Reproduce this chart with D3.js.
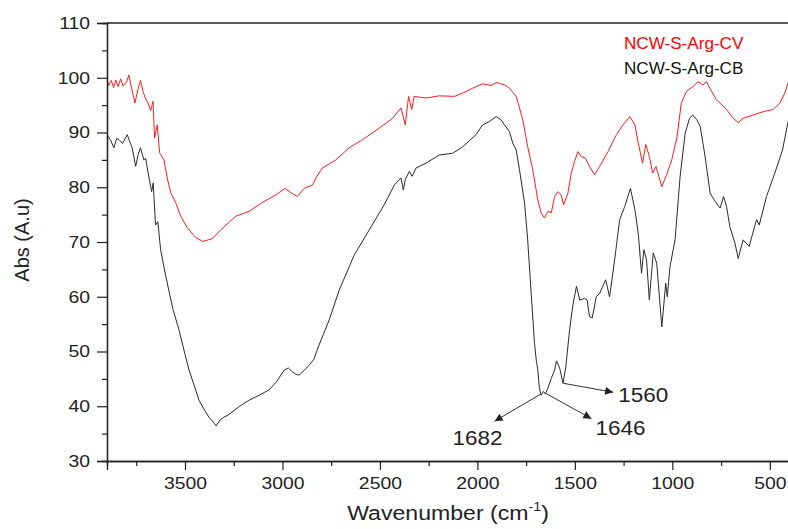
<!DOCTYPE html>
<html>
<head>
<meta charset="utf-8">
<script src="https://cdn.jsdelivr.net/npm/d3@7"></script>
<style>
  body { margin: 0; background: #fff; }
  text { font-family: "Liberation Sans", Arial, sans-serif; fill: #222; }
</style>
</head>
<body>
<div id="chart"></div>
<script>
// wavenumber (cm-1) / absorbance
const cvWave = [3904, 3890, 3878, 3866, 3855, 3843, 3830, 3818, 3800, 3788, 3775, 3757, 3742, 3728, 3714, 3702, 3690, 3676, 3664, 3656, 3642, 3630, 3608, 3591, 3573, 3548, 3522, 3488, 3445, 3408, 3361, 3317, 3240, 3171, 3104, 3034, 2986, 2957, 2923, 2889, 2846, 2828, 2796, 2726, 2658, 2589, 2503, 2435, 2392, 2370, 2353, 2337, 2324, 2264, 2195, 2118, 2075, 2024, 1973, 1930, 1904, 1887, 1861, 1836, 1801, 1767, 1742, 1716, 1690, 1673, 1656, 1638, 1621, 1604, 1587, 1570, 1558, 1536, 1518, 1502, 1484, 1467, 1445, 1425, 1399, 1373, 1330, 1287, 1253, 1218, 1192, 1175, 1153, 1136, 1118, 1101, 1084, 1054, 1029, 1003, 977, 954, 928, 894, 868, 843, 825, 808, 774, 722, 688, 662, 637, 585, 534, 483, 448, 423, 407, 400];
const cvAbs  = [100, 98.6, 99.5, 98.2, 99.6, 98.4, 99.8, 98.5, 99.2, 100.5, 98.3, 95.4, 97.8, 99.5, 97.3, 96.2, 95.4, 94, 95.7, 89, 91.4, 86.3, 85, 81.7, 79, 77.2, 74.7, 72.6, 70.8, 70.1, 70.6, 72.2, 74.7, 75.6, 77.2, 78.6, 79.8, 79, 78.3, 79.8, 80.4, 81.7, 83.5, 85, 87.2, 88.7, 90.8, 92.6, 94.5, 91.4, 96.6, 94.2, 96.6, 96.3, 96.7, 96.6, 97.2, 98.1, 98.9, 98.6, 99.1, 99, 98.7, 98.1, 96.6, 92.3, 87.4, 83.2, 77.7, 75.3, 74.4, 75.6, 75.3, 78.3, 79.2, 78.6, 76.8, 78.9, 82.6, 84.7, 86.5, 85.6, 85.3, 83.8, 82.3, 83.8, 86.5, 89.6, 91.4, 92.9, 91.4, 88.1, 84.4, 87.8, 85.6, 82.6, 83.8, 80.1, 82.3, 85, 89, 95.4, 97.5, 98.4, 99.3, 98.7, 99.3, 98.1, 96, 94.2, 92.6, 91.8, 92.6, 93.2, 93.8, 94.2, 95.4, 97.2, 99, 99.4];

const cbWave = [3904, 3880, 3865, 3850, 3839, 3820, 3796, 3785, 3771, 3753, 3740, 3728, 3711, 3702, 3689, 3671, 3663, 3651, 3639, 3625, 3600, 3582, 3560, 3531, 3500, 3479, 3450, 3428, 3400, 3377, 3350, 3340, 3320, 3300, 3274, 3220, 3171, 3120, 3068, 3030, 2991, 2970, 2950, 2930, 2914, 2890, 2863, 2840, 2812, 2760, 2709, 2632, 2555, 2478, 2426, 2392, 2380, 2370, 2349, 2335, 2315, 2264, 2195, 2127, 2075, 2007, 1973, 1938, 1904, 1878, 1861, 1836, 1819, 1801, 1784, 1758, 1742, 1724, 1707, 1698, 1690, 1682, 1673, 1661, 1651, 1639, 1621, 1604, 1594, 1578, 1561, 1547, 1527, 1510, 1492, 1475, 1450, 1437, 1425, 1411, 1390, 1373, 1342, 1322, 1296, 1270, 1244, 1215, 1192, 1175, 1158, 1146, 1132, 1118, 1098, 1080, 1054, 1034, 1026, 1012, 986, 960, 934, 912, 895, 874, 857, 832, 806, 780, 755, 737, 722, 705, 679, 662, 637, 606, 568, 554, 517, 474, 435, 411, 400];
const cbAbs  = [89.8, 88.5, 87.2, 88.9, 88.7, 88, 89.6, 88.5, 87.2, 83.8, 86, 87.2, 85, 85.3, 82.6, 79.2, 80.8, 73.1, 73.7, 68.6, 64, 61, 57.5, 54, 49.5, 46.6, 43.5, 41.1, 39.3, 38, 36.9, 36.4, 37.5, 38, 38.5, 40, 41.1, 42, 43, 44.5, 46.6, 47, 46.3, 45.8, 45.7, 46.5, 47.5, 48.5, 51.2, 55.8, 61.2, 67.6, 72.2, 76.8, 80.4, 81.7, 79.5, 81.4, 82.9, 82, 83.5, 84.4, 85.9, 86.2, 87.4, 89.6, 91.4, 92, 92.9, 92.3, 91.4, 90.2, 88.1, 86.8, 83.2, 77.1, 70.4, 60.6, 51.5, 48.4, 46.6, 43.3, 42, 42.7, 42.2, 43.3, 45.1, 46.6, 48.3, 47, 44.2, 47, 54, 58.5, 61.9, 59.4, 59.7, 59.4, 56.4, 56.1, 60, 60.6, 63.1, 60, 66.7, 74.1, 76.5, 79.8, 75.9, 71.6, 64.3, 68.6, 66.7, 59.4, 68, 66.1, 54.5, 62.5, 60, 65.5, 70.4, 82, 89.9, 92.6, 93.2, 92.3, 91.1, 85.6, 78.9, 77.4, 76.2, 78.3, 76.5, 72.8, 69.8, 67, 70.4, 69.2, 74.1, 73.1, 78.3, 82.6, 86.8, 91.1, 93];

const seriesNames = ["NCW-S-Arg-CV", "NCW-S-Arg-CB"];
const xTicks = [3500, 3000, 2500, 2000, 1500, 1000, 500];
const yTicks = [30, 40, 50, 60, 70, 80, 90, 100, 110];
// peak labels on the CB curve: wavenumber and absorbance at the arrow foot
const peakLabels = ["1682", "1646", "1560"];
const peakWave = [1676, 1646, 1560];
const peakAbs = [42.2, 42.3, 44.2];

const W = 788, H = 529;
const svg = d3.select("#chart").append("svg")
    .attr("width", W)
    .attr("height", H);

const x = d3.scaleLinear().domain([3900, 400]).range([107, 789.3]);
const y = d3.scaleLinear().domain([30, 110]).range([461, 23]);
const SX = 1.14; // the original text is a bit wide

const clip = svg.append("clipPath").attr("id", "plotclip")
    .append("rect").attr("x", 107).attr("y", 23).attr("width", 683).attr("height", 438);

// curves
const line = d3.line().x(d => x(d[0])).y(d => y(d[1]));
const cv = cvWave.map((w, i) => [w, cvAbs[i]]);
const cb = cbWave.map((w, i) => [w, cbAbs[i]]);

const g = svg.append("g").attr("clip-path", "url(#plotclip)");
g.append("path").datum(cv)
    .attr("d", line)
    .attr("fill", "none")
    .attr("stroke", "#ff1a1a")
    .attr("stroke-width", 1);
g.append("path").datum(cb)
    .attr("d", line)
    .attr("fill", "none")
    .attr("stroke", "#2a2a2a")
    .attr("stroke-width", 1);

// frame
svg.append("line")
    .attr("x1", x.range()[0]).attr("x2", x.range()[1])
    .attr("y1", y(110)).attr("y2", y(110))
    .attr("stroke", "#222").attr("stroke-width", 1.3);

// x axis
const xMinor = d3.range(3750, 400, -500);
const xAxisG = svg.append("g").attr("transform", `translate(0,${y(30)})`);
xAxisG.call(d3.axisBottom(x).tickValues(xMinor).tickSize(5).tickFormat(""));
xAxisG.append("g").call(d3.axisBottom(x).tickValues(xTicks).tickSize(9).tickPadding(7).tickFormat(d3.format("d")));
xAxisG.selectAll(".domain").attr("stroke", "#222").attr("stroke-width", 1.3);
xAxisG.selectAll(".tick line").attr("stroke", "#222").attr("stroke-width", 1.2);
xAxisG.selectAll(".tick text")
    .attr("font-size", 17)
    .attr("fill", "#222")
    .attr("font-family", "Liberation Sans, Arial, sans-serif")
    .attr("transform", `scale(${SX},1)`);

// y axis
const yMinor = d3.range(35, 110, 10);
const yAxisG = svg.append("g").attr("transform", `translate(${x.range()[0]},0)`);
yAxisG.call(d3.axisLeft(y).tickValues(yMinor).tickSize(5).tickFormat(""));
yAxisG.append("g").call(d3.axisLeft(y).tickValues(yTicks).tickSize(10).tickPadding(7).tickFormat(d3.format("d")));
yAxisG.selectAll(".domain").attr("stroke", "#222").attr("stroke-width", 1.3);
yAxisG.selectAll(".tick line").attr("stroke", "#222").attr("stroke-width", 1.2);
yAxisG.selectAll(".tick text")
    .attr("font-size", 17)
    .attr("fill", "#222")
    .attr("font-family", "Liberation Sans, Arial, sans-serif")
    .attr("x", -17 / SX)
    .attr("transform", `scale(${SX},1)`);

// axis titles
const xt = svg.append("text")
    .attr("transform", `translate(${(x.range()[0] + 789) / 2},520) scale(1.1,1)`)
    .attr("text-anchor", "middle")
    .attr("font-size", 21);
xt.append("tspan").text("Wavenumber (cm");
xt.append("tspan").attr("font-size", 13).attr("dy", -9).text("-1");
xt.append("tspan").attr("dy", 9).text(")");

svg.append("text")
    .attr("transform", "translate(29,240) rotate(-90)")
    .attr("text-anchor", "middle")
    .attr("font-size", 20)
    .text("Abs (A.u)");

// legend
const legendColors = ["#ff0000", "#111"];
svg.selectAll(".leg").data(seriesNames).enter().append("text")
    .attr("class", "leg")
    .attr("transform", (d, i) => `translate(624,${48.5 + i * 25}) scale(1.07,1)`)
    .attr("font-family", "Open Sans, Noto Sans, sans-serif")
    .attr("font-size", 16)
    .style("fill", (d, i) => legendColors[i])
    .text(d => d);

// peak arrows
svg.append("defs").append("marker")
    .attr("id", "arrow")
    .attr("viewBox", "0 0 10 10")
    .attr("refX", 10).attr("refY", 5)
    .attr("markerWidth", 11).attr("markerHeight", 8)
    .attr("markerUnits", "userSpaceOnUse")
    .attr("orient", "auto")
    .append("path").attr("d", "M0,0 L10,5 L0,10 Z").attr("fill", "#222");

const tipOff = [[-46, 27], [45, 25], [50, 9]];
const labOff = [[-63, 51], [74, 41], [80, 19]];
peakLabels.forEach((lab, i) => {
    const px = x(peakWave[i]), py = y(peakAbs[i]);
    svg.append("line")
        .attr("x1", px).attr("y1", py)
        .attr("x2", px + tipOff[i][0]).attr("y2", py + tipOff[i][1])
        .attr("stroke", "#333").attr("stroke-width", 1)
        .attr("marker-end", "url(#arrow)");
    svg.append("text")
        .attr("transform", `translate(${px + labOff[i][0]},${py + labOff[i][1]}) scale(1.07,1)`)
        .attr("text-anchor", "middle")
        .attr("font-size", 21)
        .text(lab);
});
</script>
</body>
</html>
